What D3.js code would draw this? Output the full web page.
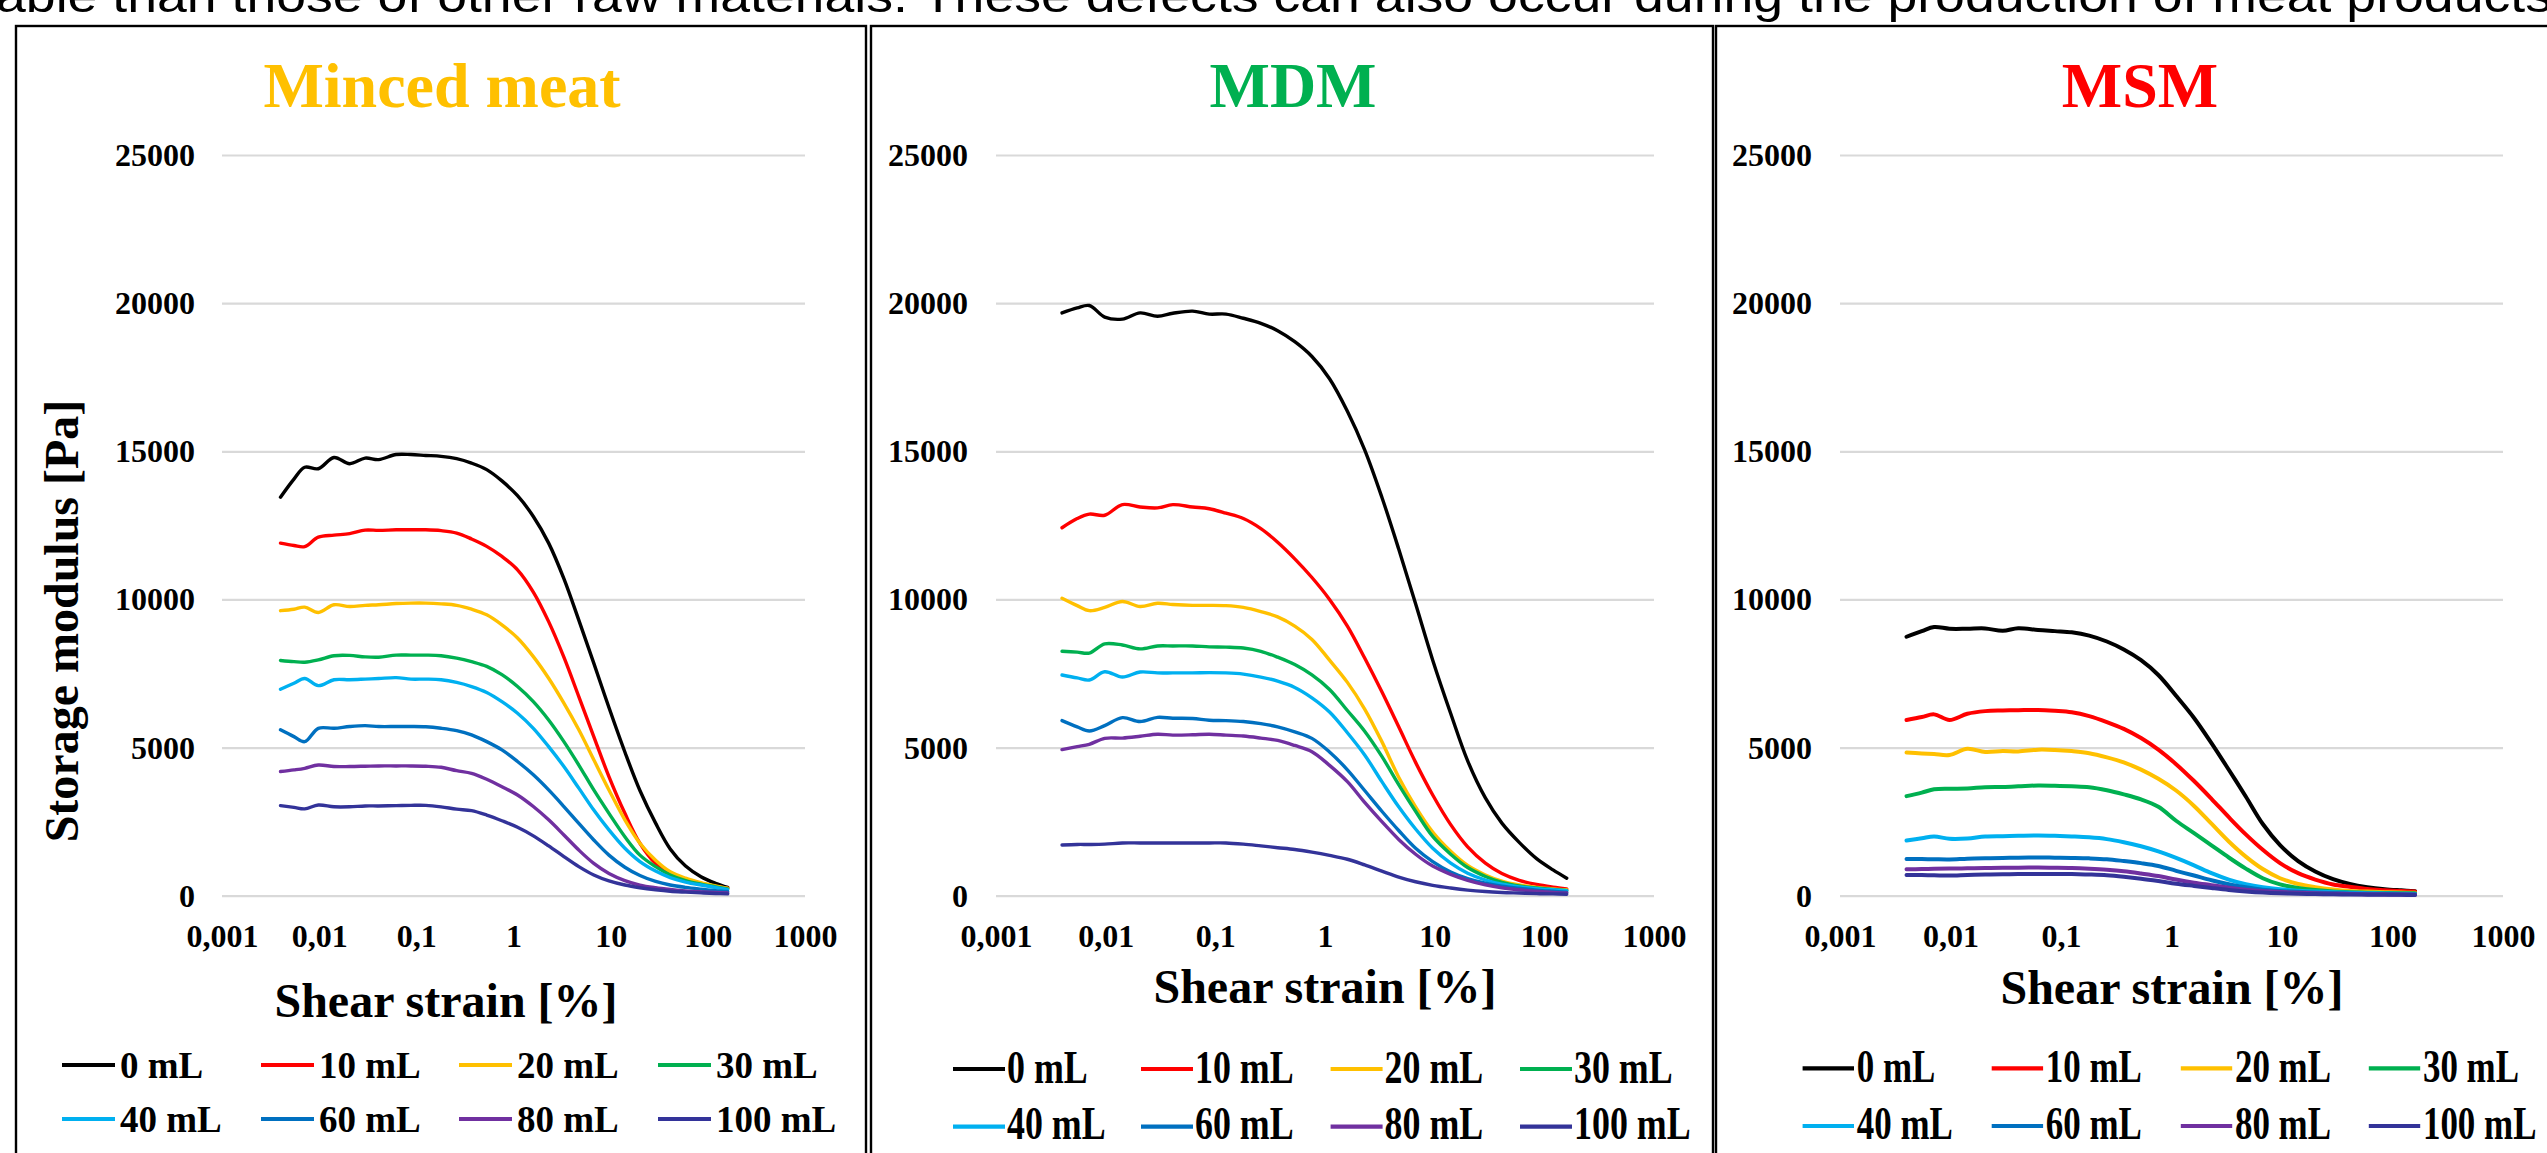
<!DOCTYPE html>
<html><head><meta charset="utf-8">
<script src="https://cdn.jsdelivr.net/npm/d3@7"></script>
<style>
html,body{margin:0;padding:0;background:#fff;overflow:hidden;}
svg{display:block;}
</style></head><body>
<svg id="c" width="2547" height="1153"></svg>
<script>
// ---------------- DATA ----------------
const strain = [0.004, 0.0055, 0.0071, 0.0098, 0.0142, 0.0206, 0.0297, 0.041, 0.062, 0.088, 0.125, 0.18, 0.26, 0.37, 0.53, 0.76, 1.1, 1.6, 2.3, 3.3, 4.7, 6.7, 9.6, 14, 20, 29, 41, 59, 85, 120, 160];
const seriesNames = ["0 mL","10 mL","20 mL","30 mL","40 mL","60 mL","80 mL","100 mL"];
const seriesColors = ["#000000","#FF0000","#FFC000","#00B050","#00B0F0","#0070C0","#7030A0","#333399"];
const panelTitles = ["Minced meat","MDM","MSM"];
const panelTitleColors = ["#FFC000","#00B050","#FF0000"];
const yTicks = [0,5000,10000,15000,20000,25000];
const xTicks = [0.001,0.01,0.1,1,10,100,1000];
const xTickLabels = ["0,001","0,01","0,1","1","10","100","1000"];
const yTitle = "Storage modulus [Pa]";
const xTitle = "Shear strain [%]";
const topText = "able than those of other raw materials. These defects can also occur during the production of meat products";

const mincedMeat = [
  [13450,14060,14460,14410,14790,14580,14770,14720,14890,14890,14860,14830,14750,14600,14380,14000,13500,12800,11900,10700,9300,7850,6350,4850,3550,2450,1580,1000,640,420,280],
  [11900,11820,11780,12100,12170,12220,12340,12330,12350,12350,12350,12320,12240,12040,11790,11450,11000,10250,9250,8050,6720,5370,4020,2780,1770,1090,750,530,390,310,250],
  [9620,9670,9740,9560,9820,9760,9800,9820,9860,9875,9875,9850,9800,9670,9480,9140,8700,8070,7340,6500,5600,4590,3570,2560,1770,1200,810,590,440,330,250],
  [7940,7900,7880,7960,8100,8110,8060,8050,8120,8120,8120,8100,8020,7900,7740,7460,7060,6550,5930,5200,4410,3570,2780,1990,1370,980,700,510,390,300,230],
  [6970,7170,7330,7090,7290,7290,7310,7330,7360,7310,7310,7290,7200,7060,6860,6550,6160,5650,5030,4360,3630,2890,2220,1600,1150,830,610,460,360,280,200],
  [5600,5370,5200,5650,5650,5710,5740,5710,5710,5710,5700,5650,5570,5430,5200,4920,4530,4080,3570,3010,2440,1880,1370,960,680,480,360,280,220,170,140],
  [4190,4245,4300,4410,4360,4360,4370,4380,4380,4380,4370,4335,4220,4130,3930,3680,3400,3010,2560,2050,1540,1090,750,510,360,270,210,160,130,110,90],
  [3040,2980,2930,3060,3000,3000,3030,3030,3040,3050,3050,3000,2920,2870,2720,2530,2310,2020,1680,1320,980,700,500,360,270,200,150,120,95,75,60]
];
const mdm = [
  [19670,19840,19920,19530,19460,19670,19560,19660,19730,19630,19630,19490,19320,19070,18700,18200,17450,16350,15050,13450,11700,9850,7950,6150,4550,3300,2450,1800,1250,870,590],
  [12420,12730,12880,12840,13200,13120,13090,13200,13120,13060,12910,12730,12390,11930,11370,10740,10000,9100,8020,6880,5700,4500,3400,2400,1650,1100,750,520,380,290,230],
  [10040,9790,9620,9730,9930,9760,9870,9830,9800,9800,9790,9730,9590,9410,9100,8650,7950,7200,6300,5200,4000,3000,2150,1500,1020,700,490,360,280,230,200],
  [8250,8220,8190,8500,8460,8330,8430,8430,8430,8400,8390,8360,8250,8050,7800,7450,6960,6250,5550,4700,3750,2850,2000,1400,950,650,450,330,260,210,180],
  [7450,7350,7280,7560,7380,7550,7520,7520,7520,7530,7520,7480,7380,7240,7030,6680,6200,5500,4750,3850,3000,2250,1600,1100,760,530,390,300,240,200,170],
  [5910,5700,5560,5740,6010,5880,6020,5990,5980,5920,5910,5880,5810,5700,5530,5310,4850,4250,3550,2850,2200,1600,1150,800,580,420,320,250,190,150,120],
  [4930,5030,5110,5310,5320,5380,5450,5420,5430,5450,5420,5390,5320,5240,5070,4860,4400,3850,3150,2500,1900,1400,1000,720,520,370,270,200,150,110,90],
  [1710,1730,1730,1740,1780,1780,1780,1780,1780,1780,1780,1740,1680,1620,1560,1470,1360,1230,1040,830,630,470,350,260,190,140,110,90,70,60,50]
];
const msm = [
  [8740,8930,9070,9010,9010,9020,8940,9030,8970,8930,8890,8780,8580,8310,7950,7450,6750,6000,5150,4250,3350,2420,1710,1170,820,560,400,290,220,180,150],
  [5930,6030,6120,5930,6140,6230,6250,6260,6270,6240,6190,6060,5860,5630,5320,4930,4440,3870,3270,2650,2070,1550,1100,760,545,380,300,225,185,155,140],
  [4830,4800,4780,4750,4960,4850,4880,4870,4930,4920,4880,4810,4670,4500,4255,3945,3550,3030,2430,1830,1320,900,590,395,290,210,160,140,120,105,100],
  [3360,3480,3590,3610,3620,3660,3670,3690,3720,3710,3690,3660,3560,3420,3250,3000,2530,2110,1700,1290,915,590,380,260,190,140,120,100,90,85,80],
  [1860,1940,2000,1920,1930,2000,2010,2020,2030,2020,2000,1970,1910,1805,1670,1495,1275,1025,760,545,390,285,215,170,140,120,100,85,75,65,60],
  [1240,1235,1230,1225,1250,1265,1275,1285,1290,1285,1275,1260,1230,1170,1100,1005,840,680,520,385,285,205,160,130,110,90,75,65,55,50,45],
  [890,900,910,915,925,935,940,945,950,945,935,910,875,825,750,665,545,440,355,270,205,155,125,100,85,70,60,50,45,40,35],
  [700,695,690,680,700,715,725,730,735,735,730,715,690,640,575,495,405,330,260,195,145,105,80,65,55,45,40,35,30,28,25]
];
const panelData = [mincedMeat, mdm, msm];

// ---------------- LAYOUT ----------------
const FONT = "'Liberation Serif','Times New Roman',Times,serif";
const layout = [
  {frame:[16,866], x0:222, x1:805, yLabelGap:27, titleX:442, xTitleX:446, xTitleY:1017, yTitle:true,
   leg:{lineX:[62,261,459,658], len:53, gap:5, lineY:[1065,1119], baseY:[1078,1132], fs:37, sq:1.0}, lw:3.4},
  {frame:[871,1713], x0:996, x1:1654, yLabelGap:28, titleX:1293, xTitleX:1325, xTitleY:1003, yTitle:false,
   leg:{lineX:[953,1141,1330.6,1520], len:52, gap:2, lineY:[1069,1126.7], baseY:[1082.7,1139.3], fs:46, sq:0.78}, lw:3.4},
  {frame:[1716,2600], x0:1840, x1:2503, yLabelGap:28, titleX:2140, xTitleX:2172, xTitleY:1004, yTitle:false,
   leg:{lineX:[1802.6,1991.7,2180.8,2368.8], len:51.4, gap:2.7, lineY:[1068.3,1126], baseY:[1081.7,1139.3], fs:46, sq:0.76}, lw:4}
];
const plotTop = 155, plotBottom = 895.7, frameTop = 26;

const svg = d3.select("#c");
svg.append("rect").attr("width",2547).attr("height",1153).attr("fill","#fff");

// top cut-off sentence (cut by the page edge, as in the reference)
svg.append("text").attr("x",-4).attr("y",12)
  .attr("font-family","'Liberation Sans',Arial,sans-serif").attr("font-size",46)
  .attr("textLength",2556).attr("lengthAdjust","spacingAndGlyphs")
  .attr("fill","#000").text(topText);

layout.forEach((L, pi) => {
  const g = svg.append("g");
  // frame
  g.append("rect").attr("x",L.frame[0]).attr("y",frameTop)
    .attr("width",L.frame[1]-L.frame[0]).attr("height",1300)
    .attr("fill","none").attr("stroke","#000").attr("stroke-width",2.4);

  const x = d3.scaleLog().domain([0.001,1000]).range([L.x0, L.x1]);
  const y = d3.scaleLinear().domain([0,25000]).range([plotBottom, plotTop]);

  // y axis with gridlines
  const ya = g.append("g").attr("transform",`translate(${L.x0},0)`)
    .call(d3.axisLeft(y).tickValues(yTicks).tickFormat(d3.format("d"))
      .tickSize(-(L.x1-L.x0)).tickPadding(L.yLabelGap));
  ya.select(".domain").remove();
  ya.selectAll(".tick line").attr("stroke","#D9D9D9").attr("stroke-width",2.2);
  ya.selectAll(".tick text").attr("font-family",FONT).attr("font-weight","bold")
    .attr("font-size",32).attr("fill","#000").attr("dy","0.33em");

  // x axis labels
  const xa = g.append("g").attr("transform",`translate(0,${plotBottom})`)
    .call(d3.axisBottom(x).tickValues(xTicks).tickFormat((d,i)=>xTickLabels[i]).tickSize(0));
  xa.select(".domain").remove();
  xa.selectAll(".tick text").attr("font-family",FONT).attr("font-weight","bold")
    .attr("font-size",32).attr("fill","#000").attr("y",51).attr("dy",null);

  // series lines
  const line = d3.line().x(d=>x(d[0])).y(d=>y(d[1])).curve(d3.curveCatmullRom.alpha(0.5));
  panelData[pi].forEach((vals, si) => {
    const pts = strain.map((s,k)=>[s, vals[k]]);
    g.append("path").attr("d",line(pts)).attr("fill","none")
      .attr("stroke",seriesColors[si]).attr("stroke-width",L.lw)
      .attr("stroke-linejoin","round").attr("stroke-linecap","round");
  });

  // panel title
  g.append("text").attr("x",L.titleX).attr("y",107).attr("text-anchor","middle")
    .attr("font-family",FONT).attr("font-weight","bold").attr("font-size",64)
    .attr("fill",panelTitleColors[pi]).text(panelTitles[pi]);

  // x-axis title
  g.append("text").attr("x",L.xTitleX).attr("y",L.xTitleY).attr("text-anchor","middle")
    .attr("font-family",FONT).attr("font-weight","bold").attr("font-size",48)
    .attr("fill","#000").text(xTitle);

  // y-axis title
  if (L.yTitle) {
    g.append("text").attr("transform","translate(78,621) rotate(-90)").attr("text-anchor","middle")
      .attr("font-family",FONT).attr("font-weight","bold").attr("font-size",48)
      .attr("fill","#000").text(yTitle);
  }

  // legend
  const lg = L.leg;
  seriesNames.forEach((name, si) => {
    const col = si % 4, row = Math.floor(si/4);
    const lx = lg.lineX[col];
    g.append("line").attr("x1",lx).attr("x2",lx+lg.len)
      .attr("y1",lg.lineY[row]).attr("y2",lg.lineY[row])
      .attr("stroke",seriesColors[si]).attr("stroke-width",4.2);
    g.append("text")
      .attr("transform",`translate(${lx+lg.len+lg.gap},${lg.baseY[row]}) scale(${lg.sq},1)`)
      .attr("font-family",FONT).attr("font-weight","bold").attr("font-size",lg.fs)
      .attr("fill","#000").text(name);
  });
});
</script>
</body></html>
